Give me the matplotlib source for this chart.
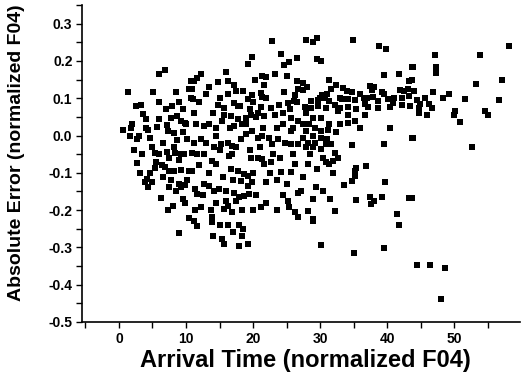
import numpy as np
import matplotlib.pyplot as plt
from matplotlib.ticker import MultipleLocator, FormatStrFormatter

plt.rcParams['font.family'] = ['Liberation Sans', 'DejaVu Sans']
plt.rcParams['axes.unicode_minus'] = False

# arrival time (normalized F04)
arrival = [
    1.4, 5.1, 8.5, 2.6, 3.3, 6.0, 6.8, 7.9, 9.6, 10.7, 10.5, 10.7,
    22.8, 19.9, 19.2, 24.2, 26.6, 24.6, 25.4, 12.2, 11.7, 11.2, 10.9, 11.1,
    14.8, 16.3, 17.1, 17.4, 16.2, 20.3, 21.3, 21.9, 21.7, 23.2, 26.6, 26.7,
    24.6, 26.2, 19.3, 19.9, 21.2, 21.4, 14.7, 15.7, 17.1, 17.8, 19.6, 21.2,
    22.7, 23.9, 25.2, 26.1,
    29.5, 27.9, 28.9, 34.9, 38.8, 39.9, 29.6, 30.2, 43.7, 39.6, 41.8, 31.4,
    32.4, 31.7, 33.4, 34.7, 37.4, 37.7, 39.2, 41.9, 43.2, 43.1, 27.4, 27.4,
    30.3, 28.7, 29.7, 30.7, 31.4, 32.2, 33.2, 34.2, 35.2, 36.5, 36.7, 37.9,
    38.7, 40.2, 40.9, 42.2, 43.2, 27.7, 28.7, 29.7, 30.9, 32.9, 34.2, 35.4,
    37.2, 38.7, 40.4, 42.2, 43.4,
    58.2, 47.1, 53.9, 43.9, 47.3, 47.3, 43.7, 53.3, 57.1, 46.8, 49.3, 48.3,
    51.6, 56.7, 44.4, 45.7, 44.9, 46.2, 44.7, 46.7, 50.1, 54.6,
    3.6, 4.1, 5.9, 7.7, 8.7, 9.2, 9.9, 0.6, 1.8, 4.4, 5.6, 7.1,
    7.3, 8.2, 1.7, 2.7, 4.7, 8.7, 10.2, 8.2, 7.2, 5.4, 5.9, 8.4,
    9.2, 9.7, 9.0, 2.7, 6.4, 5.4, 6.9, 7.4, 8.2, 9.2, 10.4, 4.7,
    4.2, 3.9, 4.9, 4.4, 7.4, 8.9, 9.2, 9.9, 6.2, 9.8, 7.3,
    11.2, 12.7, 13.4, 14.4, 15.4, 15.7, 16.7, 17.2, 17.7, 18.4, 18.9, 19.7,
    20.7, 21.7, 23.2, 24.4, 25.7, 26.7, 11.2, 12.2, 14.4, 15.2, 16.2, 16.9,
    18.2, 18.9, 19.9, 20.7, 21.4, 22.4, 22.9, 23.7, 24.7, 25.7, 26.7, 25.7,
    10.9, 11.7, 12.7, 14.2, 13.9, 14.4, 16.4, 16.9, 19.7, 20.7, 21.4, 21.7,
    22.7, 24.2, 25.7, 26.2, 10.9, 16.7, 17.7, 18.7, 19.2, 18.2, 19.2, 19.9,
    21.9, 12.7, 13.4, 14.2, 14.9, 11.4, 11.7, 17.2, 17.4, 17.9, 18.7, 19.4,
    15.9, 16.2, 26.7, 25.2, 25.4, 21.2, 12.2, 11.4, 13.7, 13.9, 15.7, 16.9,
    18.4, 26.2, 26.7,
    27.9, 28.9, 30.2, 32.7, 34.2, 36.7, 27.4, 28.4, 29.2, 27.9, 30.2, 31.4,
    31.2, 32.4, 34.2, 35.2, 35.9, 40.4, 43.7, 27.4, 28.2, 29.2, 30.2, 30.9,
    27.9, 28.9, 30.2, 31.7, 34.7, 39.5, 30.4, 30.9, 31.9, 32.7, 32.2, 31.4,
    28.2, 35.4, 35.2, 36.9, 35.2, 34.7, 33.6, 29.4, 27.2, 39.7, 35.3, 37.4,
    38.1, 37.6, 39.2, 43.2, 28.2, 32.2, 41.4, 28.9,
    44.7, 45.9, 50.0, 55.0, 50.9, 43.9, 52.6, 43.7,
    9.0,
    11.2, 11.6, 13.9, 16.2, 17.9, 15.4, 15.7, 18.4, 17.9, 19.3,
    28.9, 30.1, 35.1, 39.5, 41.7,
    44.4, 46.4, 48.7, 48.1,
    # dense-cluster points (estimated)
    2.0, 3.0, 4.0, 5.0, 6.5, 7.5, 3.5, 5.5, 6.5, 7.8, 8.5, 9.5,
    10.2, 3.2, 2.2, 6.0, 7.0, 9.0, 10.0, 8.0, 10.5, 9.6,
    12.0, 13.0, 14.0, 15.0, 16.5, 18.0, 19.0, 20.0, 22.0, 23.5, 24.5, 25.5,
    13.0, 15.0, 17.5, 19.5, 21.0, 23.0, 24.0, 26.0, 12.0, 13.5, 15.5, 17.0,
    20.0, 22.5, 23.5, 25.0, 12.5, 14.5, 16.0, 20.5, 22.0, 23.5, 24.5, 15.0,
    17.0, 18.5, 14.0, 20.0, 11.5, 13.5, 16.0, 18.5, 20.5, 21.5, 26.0, 26.5,
    25.0,
    28.0, 30.0, 31.0, 33.0, 34.0, 36.0, 37.0, 38.0, 39.5, 41.0, 42.5, 44.0,
    29.0, 31.0, 33.0, 28.5, 32.0, 29.5, 27.5, 29.0, 30.5, 31.5,
]

# absolute error (normalized F04)
abs_error = [
    0.117, 0.117, 0.117, 0.078, 0.081, 0.165, 0.175, 0.079, 0.070, 0.145, 0.126, 0.101,
    0.254, 0.210, 0.192, 0.218, 0.207, 0.188, 0.196, 0.165, 0.154, 0.145, 0.126, 0.099,
    0.143, 0.147, 0.135, 0.120, 0.110, 0.148, 0.159, 0.156, 0.136, 0.165, 0.145, 0.126,
    0.117, 0.108, 0.098, 0.108, 0.114, 0.102, 0.081, 0.074, 0.087, 0.078, 0.070, 0.076,
    0.074, 0.081, 0.087, 0.092,
    0.262, 0.255, 0.252, 0.257, 0.239, 0.231, 0.206, 0.199, 0.185, 0.163, 0.165, 0.150,
    0.135, 0.126, 0.128, 0.117, 0.134, 0.123, 0.117, 0.123, 0.147, 0.126, 0.141, 0.123,
    0.108, 0.092, 0.094, 0.101, 0.092, 0.083, 0.097, 0.099, 0.094, 0.101, 0.085, 0.103,
    0.092, 0.097, 0.088, 0.101, 0.105, 0.076, 0.074, 0.079, 0.074, 0.074, 0.076, 0.072,
    0.076, 0.074, 0.076, 0.083, 0.079,
    0.239, 0.217, 0.217, 0.185, 0.185, 0.169, 0.148, 0.137, 0.150, 0.116, 0.110, 0.101,
    0.097, 0.094, 0.094, 0.101, 0.085, 0.085, 0.073, 0.074, 0.065, 0.067,
    0.057, 0.043, 0.043, 0.047, 0.052, 0.039, 0.034, 0.015, 0.019, 0.015, 0.023, 0.028,
    0.012, 0.008, -0.001, -0.010, -0.008, -0.013, -0.010, -0.031, -0.043, -0.046, -0.049, -0.046,
    -0.050, -0.049, -0.065, -0.075, -0.079, -0.087, -0.084, -0.095, -0.096, -0.092, -0.095, -0.101,
    -0.117, -0.124, -0.126, -0.138, -0.138, -0.130, -0.138, -0.133, -0.168, -0.181, -0.199,
    0.061, 0.025, 0.030, 0.021, 0.039, 0.056, 0.052, 0.025, 0.043, 0.030, 0.048, 0.056,
    0.061, 0.052, 0.056, 0.061, 0.048, 0.039, -0.019, -0.010, -0.001, -0.024, -0.019, -0.028,
    -0.010, 0.003, 0.012, -0.006, -0.001, -0.006, -0.024, -0.010, -0.019, 0.012, -0.024, -0.024,
    -0.046, -0.050, -0.050, -0.032, -0.068, -0.077, -0.054, -0.050, -0.059, -0.059, -0.064, -0.077,
    -0.072, -0.099, -0.099, -0.077, -0.095, -0.090, -0.095, -0.104, -0.108, -0.122, -0.135, -0.126,
    -0.126, -0.130, -0.135, -0.148, -0.144, -0.144, -0.157, -0.153, -0.175, -0.166, -0.161, -0.157,
    -0.175, -0.188, -0.153, -0.175, -0.192, -0.192, -0.192, -0.201, -0.201, -0.219, -0.197, -0.206,
    -0.201, -0.206, -0.219,
    0.061, 0.048, 0.048, 0.065, 0.056, 0.056, 0.030, 0.030, 0.021, 0.012, 0.012, 0.030,
    0.016, 0.010, 0.034, 0.039, 0.021, 0.019, -0.006, -0.006, -0.019, -0.019, -0.006, -0.024,
    -0.032, -0.032, -0.037, -0.024, -0.026, -0.022, -0.059, -0.072, -0.068, -0.059, -0.046, -0.077,
    -0.077, -0.086, -0.095, -0.081, -0.108, -0.122, -0.132, -0.137, -0.150, -0.124, -0.173, -0.166,
    -0.175, -0.185, -0.164, -0.168, -0.203, -0.203, -0.210, -0.223,
    0.061, 0.056, 0.056, 0.056, 0.036, -0.006, -0.031, -0.167,
    -0.261,
    -0.228, -0.244, -0.233, -0.239, -0.241, -0.277, -0.290, -0.270, -0.297, -0.292,
    -0.228, -0.295, -0.314, -0.303, -0.239,
    -0.348, -0.348, -0.355, -0.439,
    # dense-cluster points (estimated)
    0.03, 0.0, 0.02, -0.03, -0.02, -0.06, -0.05, -0.07, -0.11, -0.12, -0.15, -0.17,
    -0.12, -0.10, -0.04, 0.09, 0.07, 0.09, 0.03, -0.19, -0.22, 0.01,
    0.09, 0.11, 0.06, 0.10, 0.02, 0.08, 0.03, 0.09, 0.10, 0.02, 0.03, 0.07,
    -0.02, -0.04, -0.03, -0.04, -0.03, -0.05, -0.06, -0.05, -0.08, -0.10, -0.11, -0.12,
    -0.10, -0.10, -0.12, -0.13, -0.16, -0.18, -0.15, -0.16, -0.18, -0.20, -0.16, -0.24,
    -0.26, -0.25, -0.27, -0.20, 0.03, 0.13, 0.17, 0.12, 0.05, 0.02, 0.02, 0.09,
    0.16,
    0.13, 0.10, 0.11, 0.10, 0.12, 0.11, 0.10, 0.13, 0.11, 0.10, 0.12, 0.12,
    0.0, -0.01, 0.03, -0.05, -0.10, -0.09, -0.11, -0.17, -0.15, -0.17,
]

fig = plt.figure(figsize=(5.23, 3.86), dpi=100)
ax = fig.add_axes([0.157, 0.166, 0.837, 0.821])

ax.scatter(arrival, abs_error, marker='s', s=24, color='black', linewidths=0)

ax.set_xlim(-5.5, 59.8)
ax.set_ylim(-0.5, 0.35)
ax.xaxis.set_major_locator(MultipleLocator(10))
ax.xaxis.set_minor_locator(MultipleLocator(5))
ax.yaxis.set_major_locator(MultipleLocator(0.1))
ax.yaxis.set_minor_locator(MultipleLocator(0.05))
ax.yaxis.set_major_formatter(FormatStrFormatter('%.1f'))

# Origin style: only left and bottom axes
ax.spines['top'].set_visible(False)
ax.spines['right'].set_visible(False)
ax.spines['left'].set_linewidth(1.2)
ax.spines['bottom'].set_linewidth(1.2)
ax.tick_params(which='both', direction='out', width=1.0)
ax.tick_params(which='major', length=4, labelsize=10, pad=3)
ax.tick_params(which='minor', length=4)
for lab in ax.get_xticklabels() + ax.get_yticklabels():
    lab.set_fontweight('bold')

ax.set_xlabel('Arrival Time (normalized F04)', fontsize=17, fontweight='bold')
ax.set_ylabel('Absolute Error (normalized F04)', fontsize=14, fontweight='bold')
ax.xaxis.set_label_coords(0.51, -0.085)
ax.yaxis.set_label_coords(-0.13, 0.535)

fig.savefig('out.png', dpi=100)
